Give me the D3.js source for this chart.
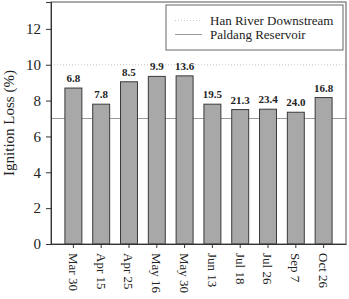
<!DOCTYPE html>
<html>
<head>
<meta charset="utf-8">
<script src="https://cdn.jsdelivr.net/npm/d3@7"></script>
<style>
  body { margin: 0; background: #fff; }
  svg { display: block; }
  text { font-family: "Liberation Serif", "Times New Roman", serif; }
</style>
</head>
<body>
<div id="chart"></div>
<script>
// sampling dates, ignition loss (%) and the number printed above each bar
var dates = ["Mar 30", "Apr 15", "Apr 25", "May 16", "May 30", "Jun 13", "Jul 18", "Jul 26", "Sep 7", "Oct 26"];
var ignitionLoss = [8.7, 7.8, 9.05, 9.35, 9.38, 7.8, 7.5, 7.52, 7.35, 8.17];
var barLabels = ["6.8", "7.8", "8.5", "9.9", "13.6", "19.5", "21.3", "23.4", "24.0", "16.8"];
var yTicks = [0, 2, 4, 6, 8, 10, 12];
// reference levels
var hanRiver = 10.0;
var paldang = 7.0;
var legendNames = ["Han River Downstream", "Paldang Reservoir"];

var W = 349, H = 299;
var margin = { top: 2, right: 3, bottom: 55, left: 51 };

var svg = d3.select("#chart").append("svg")
    .attr("width", W)
    .attr("height", H);

var x = d3.scaleBand()
    .domain(dates)
    .range([margin.left, W - margin.right])
    .paddingInner(0.39)
    .paddingOuter(0.5);

var y = d3.scaleLinear()
    .domain([0, 13.5])
    .range([H - margin.bottom, margin.top]);

// reference lines
svg.append("line")
    .attr("x1", margin.left).attr("x2", W - margin.right)
    .attr("y1", y(hanRiver)).attr("y2", y(hanRiver))
    .attr("stroke", "#c8c8c8")
    .attr("stroke-width", 1)
    .attr("stroke-dasharray", "1,2");

svg.append("line")
    .attr("x1", margin.left).attr("x2", W - margin.right)
    .attr("y1", y(paldang)).attr("y2", y(paldang))
    .attr("stroke", "#9a9a9a")
    .attr("stroke-width", 1);

// bars
svg.selectAll("rect.bar")
    .data(ignitionLoss)
    .enter().append("rect")
    .attr("class", "bar")
    .attr("x", function (d, i) { return x(dates[i]); })
    .attr("y", function (d) { return y(d); })
    .attr("width", x.bandwidth())
    .attr("height", function (d) { return y(0) - y(d); })
    .attr("fill", "#a8a8a8")
    .attr("stroke", "#3a3a3a")
    .attr("stroke-width", 1);

// numbers above bars
svg.selectAll("text.lab")
    .data(ignitionLoss)
    .enter().append("text")
    .attr("class", "lab")
    .attr("x", function (d, i) { return x(dates[i]) + x.bandwidth() / 2; })
    .attr("y", function (d) { return y(d) - 6; })
    .attr("text-anchor", "middle")
    .attr("font-size", "11px")
    .attr("font-weight", "bold")
    .attr("fill", "#222")
    .text(function (d, i) { return barLabels[i]; });

// frame
svg.append("rect")
    .attr("x", margin.left)
    .attr("y", margin.top)
    .attr("width", W - margin.right - margin.left)
    .attr("height", y(0) - margin.top)
    .attr("fill", "none")
    .attr("stroke", "#555")
    .attr("stroke-width", 1);

// y axis
var yAxis = svg.append("g")
    .attr("transform", "translate(" + margin.left + ",0)")
    .call(d3.axisLeft(y).tickValues(yTicks).tickSize(5).tickPadding(5));
yAxis.select(".domain").attr("stroke", "#333");
yAxis.selectAll(".tick line").attr("stroke", "#333");
yAxis.selectAll("text")
    .attr("font-family", "'Liberation Serif', serif")
    .attr("font-size", "15px")
    .attr("fill", "#222");

// x axis
var xAxis = svg.append("g")
    .attr("transform", "translate(0," + y(0) + ")")
    .call(d3.axisBottom(x).tickSize(4).tickSizeOuter(0));
xAxis.select(".domain").attr("stroke", "#333");
xAxis.selectAll(".tick line").attr("stroke", "#333");
xAxis.selectAll("text")
    .attr("font-family", "'Liberation Serif', serif")
    .attr("font-size", "13px")
    .attr("fill", "#222")
    .attr("text-anchor", "start")
    .attr("dy", "0.35em")
    .attr("transform", "translate(0,9) rotate(90)")
    .attr("x", 0)
    .attr("y", 0);

// y title
svg.append("text")
    .attr("transform", "translate(14," + (y(0) + margin.top) / 2 + ") rotate(-90)")
    .attr("text-anchor", "middle")
    .attr("font-size", "15px")
    .attr("fill", "#222")
    .text("Ignition Loss (%)");

// legend
var lg = svg.append("g");
lg.append("rect")
    .attr("x", 166).attr("y", 5)
    .attr("width", 177).attr("height", 45)
    .attr("fill", "#fff")
    .attr("stroke", "#666")
    .attr("stroke-width", 1);

legendNames.forEach(function (name, i) {
    var ly = 20.5 + i * 14;
    lg.append("line")
        .attr("x1", 175).attr("x2", 202)
        .attr("y1", ly).attr("y2", ly)
        .attr("stroke", i === 0 ? "#c8c8c8" : "#9a9a9a")
        .attr("stroke-dasharray", i === 0 ? "1,2" : null);
    lg.append("text")
        .attr("x", 210)
        .attr("y", ly + 4)
        .attr("font-size", "13px")
        .attr("fill", "#222")
        .text(name);
});
</script>
</body>
</html>
